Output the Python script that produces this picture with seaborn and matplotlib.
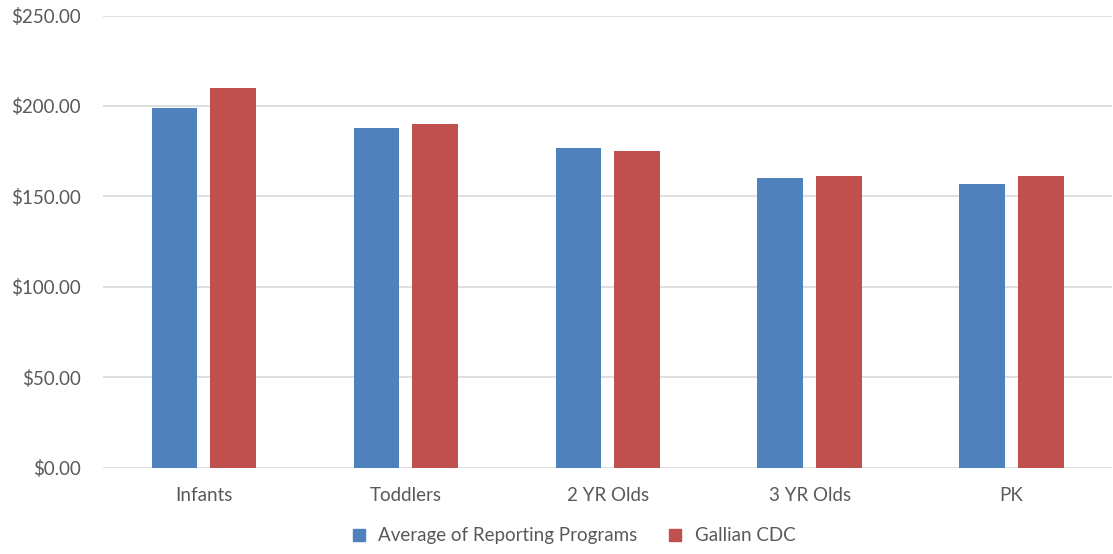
import matplotlib
matplotlib.use("Agg")
import matplotlib.pyplot as plt
from matplotlib.lines import Line2D
from matplotlib.ticker import FuncFormatter
import pandas as pd
import seaborn as sns

categories = ["Infants", "Toddlers", "2 YR Olds", "3 YR Olds", "PK"]
series_names = ["Average of Reporting Programs", "Gallian CDC"]
avg_reporting = [199, 188, 176.5, 160, 157]
gallian_cdc = [210, 190, 175, 161, 161]
y_ticks = [0, 50, 100, 150, 200, 250]

colors = ["#4F81BD", "#C0504D"]
text_color = "#595959"

df = pd.DataFrame({
    "category": categories * 2,
    "series": [series_names[0]] * len(categories) + [series_names[1]] * len(categories),
    "value": avg_reporting + gallian_cdc,
})

sns.set_style("white")
plt.rcParams["font.family"] = ["Lato", "DejaVu Sans"]

fig = plt.figure(figsize=(11.13, 5.54), dpi=100)
ax = fig.add_axes([0.0925, 0.156, 0.907, 0.816])

sns.barplot(data=df, x="category", y="value", hue="series", order=categories,
            hue_order=series_names, palette=colors, width=0.58, gap=0.22,
            saturation=1, linewidth=0, legend=False, ax=ax)

ax.set_ylim(0, 250)
ax.set_yticks(y_ticks)
ax.yaxis.set_major_formatter(FuncFormatter(lambda v, p: f"${v:,.2f}"))
ax.yaxis.grid(True, color="#D9D9D9", linewidth=1.2)
ax.set_axisbelow(True)
for s in ax.spines.values():
    s.set_visible(False)
ax.tick_params(axis="both", length=0, labelsize=13.5, colors=text_color)
ax.tick_params(axis="y", pad=16)
ax.tick_params(axis="x", pad=14)
ax.set_xlabel("")
ax.set_ylabel("")

handles = [Line2D([], [], marker="s", linestyle="", markersize=9, color=c) for c in colors]
fig.legend(handles, series_names, loc="center", bbox_to_anchor=(0.51, 0.033), ncol=2,
           frameon=False, fontsize=13.5, labelcolor=text_color, handletextpad=0.05,
           columnspacing=1.0)

fig.savefig("out.png", dpi=100)
